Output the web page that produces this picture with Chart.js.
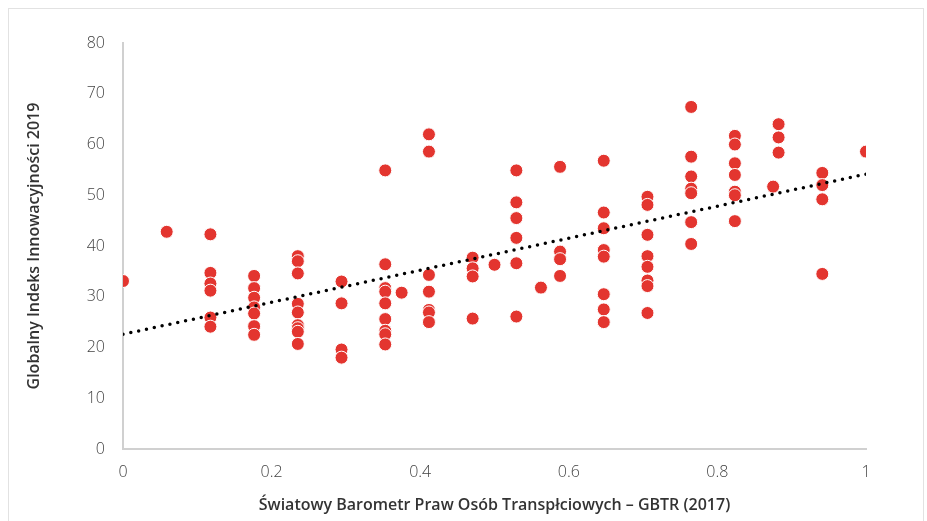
<!DOCTYPE html>
<html>
<head>
<meta charset="utf-8">
<script src="https://cdn.jsdelivr.net/npm/chart.js@4.4.1/dist/chart.umd.min.js"></script>
<style>
  html, body { margin: 0; padding: 0; background: #fff; }
  #wrap { position: relative; width: 927px; height: 521px; overflow: hidden; }
  #frame { position: absolute; left: 8px; top: 8px; width: 916px; height: 530px; border: 1px solid #e2e2e2; box-sizing: border-box; }
  canvas { position: absolute; left: 0; top: 0; }
</style>
</head>
<body>
<div id="wrap">
  <div id="frame"></div>
  <canvas id="chart" width="927" height="521"></canvas>
</div>
<script>
// GBTR score columns (x) and the innovation index values read for each column (y)
const gbtrColumns = [0, 1/17, 2/17, 3/17, 4/17, 5/17, 6/17, 0.375, 7/17, 8/17, 0.5, 9/17, 0.5625,
  10/17, 11/17, 12/17, 13/17, 14/17, 0.875, 15/17, 16/17, 1];
const gii2019 = [
  [33.1],
  [42.8],
  [42.3, 34.7, 32.6, 31.2, 25.9, 24.1],
  [34.1, 31.7, 29.8, 27.9, 26.7, 24.2, 22.5],
  [38.0, 37.0, 34.6, 28.6, 26.9, 24.4, 23.8, 23.1, 20.7],
  [33.0, 28.7, 19.6, 18.0],
  [54.9, 36.4, 31.7, 31.0, 28.7, 25.6, 23.3, 22.6, 20.6],
  [30.8],
  [62.0, 58.6, 34.3, 31.0, 27.4, 26.9, 25.0],
  [37.7, 35.6, 34.0, 25.7],
  [36.3],
  [54.9, 48.6, 45.5, 41.6, 36.6, 26.1],
  [31.8],
  [55.6, 38.9, 37.4, 34.1],
  [56.8, 46.6, 43.5, 39.2, 37.9, 30.5, 27.5, 25.0],
  [49.7, 48.1, 42.2, 38.0, 35.9, 33.2, 32.1, 26.8],
  [67.4, 57.6, 53.7, 51.3, 50.4, 44.7, 40.4],
  [61.7, 60.0, 56.3, 54.0, 50.7, 50.0, 44.9],
  [51.7],
  [64.0, 61.4, 58.4],
  [54.4, 52.0, 49.2, 34.5],
  [58.6]
];
const xTicks = [0, 0.2, 0.4, 0.6, 0.8, 1];
const yTicks = [0, 10, 20, 30, 40, 50, 60, 70, 80];

const points = [];
gbtrColumns.forEach((x, i) => gii2019[i].forEach(y => points.push({ x: x, y: y })));

// linear trendline (least squares), like Excel's
const n = points.length;
const mx = points.reduce((s, p) => s + p.x, 0) / n;
const my = points.reduce((s, p) => s + p.y, 0) / n;
let sxy = 0, sxx = 0;
points.forEach(p => { sxy += (p.x - mx) * (p.y - my); sxx += (p.x - mx) * (p.x - mx); });
const slope = sxy / sxx;
const icept = my - slope * mx;
const trend = [{ x: 0, y: icept }, { x: 1, y: icept + slope }];

const tickFont = { family: "'Open Sans', sans-serif", size: 16, weight: 300 };
const titleFont = { family: "'Open Sans', sans-serif", size: 16, weight: 600 };

new Chart(document.getElementById("chart"), {
  type: "scatter",
  data: {
    datasets: [
      {
        type: "line",
        data: trend,
        borderColor: "#000",
        borderWidth: 3.5,
        borderDash: [0, 8],
        borderCapStyle: "round",
        pointRadius: 0,
        fill: false,
      },
      {
        data: points,
        backgroundColor: "#e3352f",
        borderColor: "#fff",
        borderWidth: 1,
        pointRadius: 6.5,
      },
    ],
  },
  options: {
    responsive: false,
    animation: false,
    layout: { padding: { top: 43, right: 61, bottom: 2, left: 21 } },
    plugins: { legend: { display: false }, tooltip: { enabled: false } },
    scales: {
      x: {
        type: "linear",
        min: 0,
        max: 1,
        afterBuildTicks: s => { s.ticks = xTicks.map(v => ({ value: v })); },
        afterFit: s => { s.height = 521 - 449 - 2; },
        grid: { display: false, drawTicks: false },
        border: { display: true, color: "#d0d0d0", width: 2 },
        ticks: { color: "#444", font: tickFont, padding: 14, maxRotation: 0, callback: v => String(v) },
        title: {
          display: true,
          text: "Światowy Barometr Praw Osób Transpłciowych – GBTR (2017)",
          color: "#333",
          font: titleFont,
          padding: { top: 6, bottom: 4 },
        },
      },
      y: {
        min: 0,
        max: 80,
        afterBuildTicks: s => { s.ticks = yTicks.map(v => ({ value: v })); },
        afterFit: s => { s.width = 123 - 21; },
        grid: { display: false, drawTicks: false },
        border: { display: true, color: "#d0d0d0", width: 2 },
        ticks: { color: "#444", font: tickFont, padding: 18 },
        title: {
          display: true,
          text: "Globalny Indeks Innowacyjności 2019",
          color: "#333",
          font: titleFont,
          padding: { top: 4, bottom: 4 },
        },
      },
    },
  },
});
</script>
</body>
</html>
